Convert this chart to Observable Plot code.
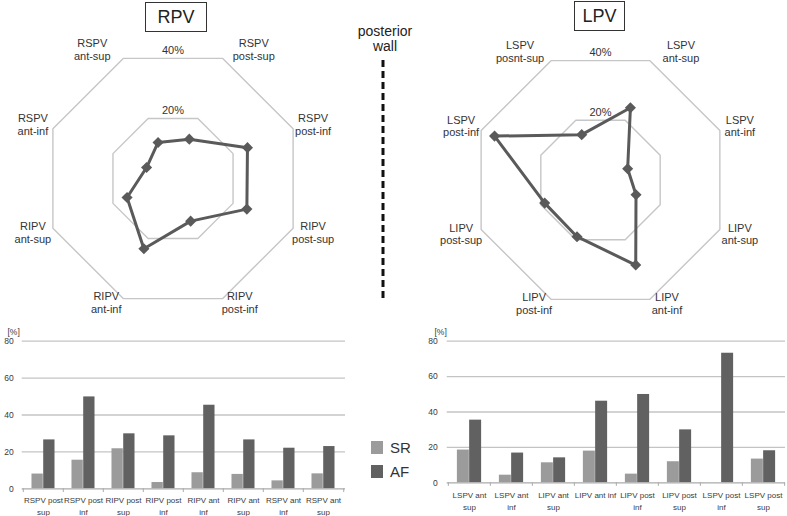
<!DOCTYPE html>
<html><head><meta charset="utf-8">
<script src="https://cdn.jsdelivr.net/npm/d3@7"></script>
<script src="https://cdn.jsdelivr.net/npm/@observablehq/plot@0.6"></script>
<style>
body{margin:0;background:#fff;}
#root{position:relative;width:787px;height:516px;overflow:hidden;font-family:"Liberation Sans",Arial,sans-serif;}
.abs{position:absolute;}
svg{overflow:visible;}
</style></head><body><div id="root"></div>
<script>
// ---- radar data (clockwise from the top-right spoke) ----
const rpvAxes = ["RSPV\npost-sup","RSPV\npost-inf","RIPV\npost-sup","RIPV\npost-inf","RIPV\nant-inf","RIPV\nant-sup","RSPV\nant-inf","RSPV\nant-sup"];
const rpvValues = [13.1, 24.8, 24.6, 14.2, 23.4, 15.3, 8.8, 12.0];
const lpvAxes = ["LSPV\nant-sup","LSPV\nant-inf","LIPV\nant-sup","LIPV\nant-inf","LIPV\npost-inf","LIPV\npost-sup","LSPV\npost-inf","LSPV\nposnt-sup"];
const lpvValues = [24.2, 9.1, 11.9, 28.5, 19.0, 18.7, 35.5, 15.2];
const gridLevels = [20, 40];
const gridLabels = ["20%", "40%"];

// ---- bar data ----
const rpvBarCats = ["RSPV post sup","RSPV post inf","RIPV post sup","RIPV post inf","RIPV ant inf","RIPV ant sup","RSPV ant inf","RSPV ant sup"];
const rpvBarLabels = ["RSPV post\nsup","RSPV post\ninf","RIPV post\nsup","RIPV post\ninf","RIPV ant\ninf","RIPV ant\nsup","RSPV ant\ninf","RSPV ant\nsup"];
const rpvSR = [8.0, 15.5, 21.7, 3.4, 8.7, 7.8, 4.3, 8.1];
const rpvAF = [26.5, 49.8, 29.8, 28.7, 45.3, 26.5, 22.0, 22.9];
const lpvBarCats = ["LSPV ant sup","LSPV ant inf","LIPV ant sup","LIPV ant inf","LIPV post inf","LIPV post sup","LSPV post inf","LSPV post sup"];
const lpvBarLabels = ["LSPV ant\nsup","LSPV ant\ninf","LIPV ant\nsup","LIPV ant inf","LIPV post\ninf","LIPV post\nsup","LSPV post\ninf","LSPV post\nsup"];
const lpvSR = [18.5, 4.3, 11.3, 17.9, 4.9, 11.9, 0, 13.4];
const lpvAF = [35.4, 16.8, 14.1, 46.1, 49.9, 29.9, 73.2, 18.1];
const seriesNames = ["SR", "AF"];
const yTicks = [0, 20, 40, 60, 80];

const FONT = '"Liberation Sans", Arial, sans-serif';
const SR_COLOR = "#9b9b9b", AF_COLOR = "#616161";
const root = document.getElementById("root");
function place(el, left, top) {
  const d = document.createElement("div");
  d.className = "abs"; d.style.left = left + "px"; d.style.top = top + "px";
  d.appendChild(el); root.appendChild(d); return d;
}

function radar({axes, values, width, height, cx, cy, k}) {
  const ang = i => (22.5 + 45 * i) * Math.PI / 180;
  const X = (r, i) => r * Math.sin(ang(i));
  const Y = (r, i) => r * Math.cos(ang(i));
  const pts = values.map((v, i) => ({axis: axes[i], i, v}));
  const closed = [...pts, pts[0]];
  const grid = gridLevels.flatMap(L => [...axes.keys(), 0].map(i => ({L, i})));
  const labels = axes.map((a, i) => ({a, i}));
  const maxL = d3.max(gridLevels);
  // label offset (px) outward from the outer vertex
  const ox = i => { const s = Math.sign(Math.sin(ang(i))); const c = Math.abs(Math.cos(ang(i))); return s * (c > 0.9 ? (Math.cos(ang(i)) > 0 ? 31 : 17) : 20); };
  const oy = i => { const c = Math.cos(ang(i)); return Math.abs(c) > 0.9 ? (c > 0 ? 9 : -4) : (c > 0 ? 4.5 : -4.5); };
  return Plot.plot({
    width, height, margin: 0,
    x: {domain: [-cx / k, (width - cx) / k], axis: null},
    y: {domain: [-(height - cy) / k, cy / k], axis: null},
    style: {background: "transparent", fontFamily: FONT, overflow: "visible"},
    marks: [
      Plot.line(grid, {x: d => X(d.L, d.i), y: d => Y(d.L, d.i), z: "L", stroke: "#c6c6c6", strokeWidth: 1.4}),
      Plot.text(gridLevels, {x: d => 0, y: d => d * Math.cos(Math.PI / 8), text: (d, i) => gridLabels[i], dy: -8, fontSize: 11, fill: "#333"}),
      Plot.line(closed, {x: d => X(d.v, d.i), y: d => Y(d.v, d.i), stroke: "#5a5a5a", strokeWidth: 3}),
      Plot.dot(pts, {x: d => X(d.v, d.i), y: d => Y(d.v, d.i), symbol: "diamond2", r: 5, fill: "#5a5a5a"}),
      Plot.text(labels, {x: d => X(maxL, d.i) + ox(d.i) / k, y: d => Y(maxL, d.i) + oy(d.i) / k, text: "a", fontSize: 11, lineHeight: 1.15, fill: "#333"})
    ]
  });
}

function bars({cats, labels, sr, af, width, height, marginLeft, marginRight, marginTop, marginBottom, yPad, xPad, pctDx, pctDy}) {
  const data = cats.flatMap((c, i) => [{c, s: seriesNames[0], v: sr[i]}, {c, s: seriesNames[1], v: af[i]}]);
  const bw = (width - marginLeft - marginRight) / cats.length;
  const barW = bw * 0.29;
  const gap = (bw - 2 * barW) / 2;
  return Plot.plot({
    width, height, marginLeft, marginRight, marginTop, marginBottom,
    x: {domain: cats, padding: 0, label: null},
    y: {domain: [0, 80], label: null},
    style: {background: "transparent", fontFamily: FONT, fontSize: "8px", color: "#3a3a3a", overflow: "visible"},
    marks: [
      Plot.ruleY(yTicks.slice(1), {stroke: "#c4c4c4", strokeWidth: 1.3}),
      Plot.barY(data.filter(d => d.s === "SR"), {x: "c", y: "v", fill: SR_COLOR, insetLeft: gap, insetRight: gap + barW}),
      Plot.barY(data.filter(d => d.s === "AF"), {x: "c", y: "v", fill: AF_COLOR, insetLeft: gap + barW, insetRight: gap}),
      Plot.ruleY([0], {stroke: "#aaaaaa", strokeWidth: 1.2}),
      Plot.ruleX(cats, {x: d => d, y1: 0, y2: -2, dx: -bw / 2, stroke: "#aaaaaa"}),
      Plot.ruleX(cats.slice(-1), {x: d => d, y1: 0, y2: -2, dx: bw / 2, stroke: "#aaaaaa"}),
      Plot.axisX({tickSize: 0, tickPadding: xPad, tickFormat: d => labels[cats.indexOf(d)], fontSize: 8, lineHeight: 1.45, label: null}),
      Plot.axisY({ticks: yTicks, tickSize: 0, tickPadding: yPad, fontSize: 8.5, label: null}),
      Plot.text(["[%]"], {frameAnchor: "top-left", dx: pctDx, dy: pctDy, fontSize: 8.5, fill: "#3a3a3a"})
    ]
  });
}

// radars
place(radar({axes: rpvAxes, values: rpvValues, width: 380, height: 325, cx: 172.5, cy: 178, k: 3.25}), 0, 0);
place(radar({axes: lpvAxes, values: lpvValues, width: 397, height: 325, cx: 210, cy: 179.5, k: 3.23}), 390, 0);

// bar charts
place(bars({cats: rpvBarCats, labels: rpvBarLabels, sr: rpvSR, af: rpvAF, width: 350, height: 191,
  marginLeft: 21.7, marginRight: 5, marginTop: 15.7, marginBottom: 27.7, yPad: 8.5, xPad: 6, pctDx: -14.7, pctDy: -12.5}), 0, 325);
place(bars({cats: lpvBarCats, labels: lpvBarLabels, sr: lpvSR, af: lpvAF, width: 367, height: 191,
  marginLeft: 26.7, marginRight: 2, marginTop: 15.7, marginBottom: 33.7, yPad: 9.5, xPad: 7, pctDx: -12.7, pctDy: -12.5}), 420, 325);

// title boxes
function titleBox(text, left, top, w, h) {
  const d = document.createElement("div");
  d.textContent = text;
  Object.assign(d.style, {width: w + "px", height: h + "px", border: "1px solid #333", boxSizing: "border-box",
    font: "18px " + FONT, color: "#222", textAlign: "center", lineHeight: (h - 2) + "px", background: "#fff"});
  place(d, left, top);
}
titleBox("RPV", 145, 2, 62, 30);
titleBox("LPV", 574, 1, 51, 30);

// posterior wall
{
  const d = document.createElement("div");
  d.innerHTML = "posterior<br>wall";
  Object.assign(d.style, {width: "100px", textAlign: "center", font: "14px " + FONT, lineHeight: "15px", color: "#222"});
  place(d, 335, 24);
  const ns = "http://www.w3.org/2000/svg";
  const s = document.createElementNS(ns, "svg");
  s.setAttribute("width", 8); s.setAttribute("height", 250);
  const l = document.createElementNS(ns, "line");
  l.setAttribute("x1", 4); l.setAttribute("x2", 4); l.setAttribute("y1", 2); l.setAttribute("y2", 244);
  l.setAttribute("stroke", "#111"); l.setAttribute("stroke-width", 3); l.setAttribute("stroke-dasharray", "7 4");
  s.appendChild(l);
  place(s, 379, 58);
}

// legend
seriesNames.forEach((name, i) => {
  const sw = document.createElement("div");
  Object.assign(sw.style, {width: "12px", height: "13px", background: i === 0 ? SR_COLOR : AF_COLOR});
  place(sw, 371, 441 + i * 23.5);
  const t = document.createElement("div");
  t.textContent = name;
  Object.assign(t.style, {font: "15px " + FONT, color: "#333", lineHeight: "15px"});
  place(t, 390, 440 + i * 23.5);
});
</script>
</body></html>
